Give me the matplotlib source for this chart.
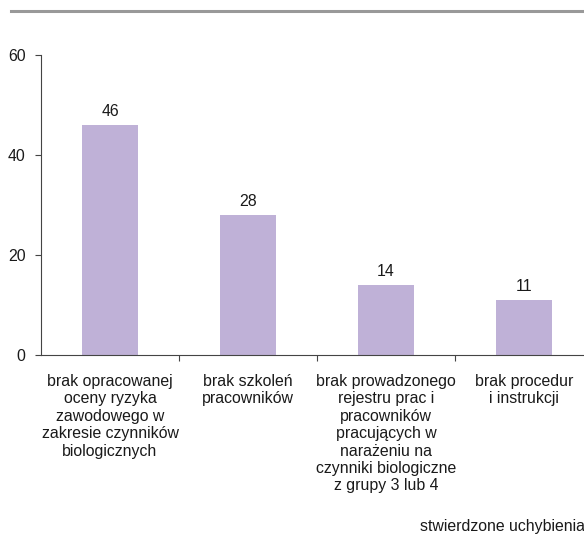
import matplotlib
matplotlib.use("Agg")
import matplotlib.pyplot as plt
from matplotlib.lines import Line2D

plt.rcParams['font.family'] = ['Liberation Sans', 'DejaVu Sans']

categories = [
    "brak opracowanej\noceny ryzyka\nzawodowego w\nzakresie czynników\nbiologicznych",
    "brak szkoleń\npracowników",
    "brak prowadzonego\nrejestru prac i\npracowników\npracujących w\nnarażeniu na\nczynniki biologiczne\nz grupy 3 lub 4",
    "brak procedur\ni instrukcji",
]
values = [46, 28, 14, 11]
y_ticks = [0, 20, 40, 60]
x_title = "stwierdzone uchybienia"

W, H = 584, 535
fig = plt.figure(figsize=(W / 100, H / 100), dpi=100)

left, right = 41, 593
top, bottom = 55, 355
ax = fig.add_axes([left / W, (H - bottom) / H, (right - left) / W, (bottom - top) / H])

bar_color = "#BFB1D7"
axis_color = "#444444"
text_color = "#1a1a1a"
fs = 11.4

x = list(range(len(values)))
bars = ax.bar(x, values, width=0.4, color=bar_color, zorder=2)
for xi, v in zip(x, values):
    ax.text(xi, v + 1.2, str(v), ha="center", va="bottom", fontsize=fs, color=text_color)

ax.set_xlim(-0.5, len(values) - 0.5)
ax.set_ylim(0, 60)
ax.set_yticks(y_ticks)
ax.set_yticklabels([str(t) for t in y_ticks], fontsize=fs, color=text_color)

# category boundaries as ticks, labels placed at centres
ax.set_xticks([i + 0.5 for i in range(len(values))])
ax.set_xticklabels([])
ax.tick_params(axis="x", direction="out", length=4, color=axis_color, width=0.8)
ax.tick_params(axis="y", direction="out", length=4, color=axis_color, width=0.8, pad=7)
for xi, lab in zip(x, categories):
    ax.text(xi, -3.8, lab, ha="center", va="top", fontsize=fs, color=text_color,
            linespacing=1.2)

for s in ["top", "right"]:
    ax.spines[s].set_visible(False)
for s in ["left", "bottom"]:
    ax.spines[s].set_color(axis_color)
    ax.spines[s].set_linewidth(0.8)

fig.text(502 / W, 1 - 527 / H, x_title, ha="center", va="center", fontsize=fs,
         color=text_color)

# rule across the top of the figure
fig.add_artist(Line2D([11 / W, 1.0], [1 - 11 / H, 1 - 11 / H], color="#999999",
                      linewidth=2.2, transform=fig.transFigure))

fig.savefig("out.png", dpi=100)
